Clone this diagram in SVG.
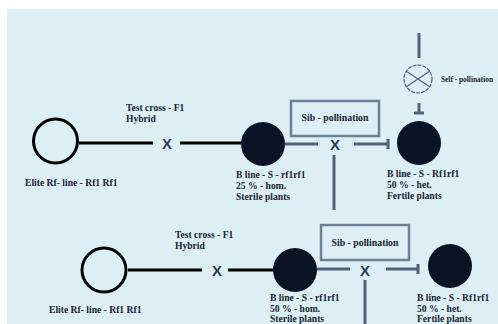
<svg xmlns="http://www.w3.org/2000/svg" width="498" height="324" viewBox="0 0 498 324">
<style>
  .t{font-family:"Liberation Serif","Times New Roman",serif;font-weight:bold;font-size:9.6px;fill:#1c2233}
  .sib{font-size:9.8px}
  .self{font-size:8px}
  .x{font-family:"Liberation Sans",Arial,sans-serif;font-weight:bold;font-size:15px;fill:#2c3d57;text-anchor:middle}
  .open{fill:none;stroke:#000;stroke-width:3}
  .fill{fill:#0b1326}
  .bl{stroke:#000;stroke-width:3;fill:none}
  .gl{stroke:#4e627a;stroke-width:3;fill:none}
  .box{fill:#dbeff4;stroke:#6d8196;stroke-width:2.5}
</style>
<rect x="0" y="0" width="498" height="324" fill="#ffffff"/>
<rect x="7" y="9" width="491" height="315" fill="#dbeff4"/>

<g id="connectors">
  <line class="bl" x1="79" y1="143" x2="153" y2="143"/>
  <line class="bl" x1="180" y1="143" x2="250" y2="143"/>
  <line class="gl" x1="285" y1="144" x2="318" y2="144"/>
  <line class="gl" x1="354" y1="144" x2="388" y2="144"/>
  <line class="gl" x1="388" y1="139" x2="388" y2="149" stroke-width="1.5"/>
  <line class="gl" x1="334" y1="155" x2="334" y2="210"/>
  <line class="gl" x1="419" y1="33" x2="419" y2="58" stroke-width="2.5"/>
  <line class="gl" x1="419" y1="103" x2="419" y2="113" stroke-width="2.5"/>
  <line class="gl" x1="414" y1="113" x2="424" y2="113" stroke-width="2"/>

  <line class="bl" x1="128" y1="270" x2="202" y2="270"/>
  <line class="bl" x1="228" y1="270" x2="284" y2="270"/>
  <line class="gl" x1="317" y1="269" x2="350" y2="269"/>
  <line class="gl" x1="386" y1="269" x2="418" y2="269"/>
  <line class="gl" x1="418" y1="264" x2="418" y2="274" stroke-width="1.5"/>
  <line class="gl" x1="365" y1="280" x2="365" y2="324"/>
</g>

<g id="x-marks">
  <text class="x" x="167" y="149">X</text>
  <text class="x" x="335" y="150">X</text>
  <text class="x" x="217" y="276">X</text>
  <text class="x" x="365" y="276">X</text>
</g>

<g id="elite1">
  <circle class="open" cx="55.5" cy="141" r="22"/>
  <text class="t" x="25" y="186">Elite Rf- line - Rf1 Rf1</text>
</g>
<g id="testcross1">
  <text class="t" x="126" y="111">Test cross - F1</text>
  <text class="t" x="126" y="122">Hybrid</text>
</g>
<g id="bline1">
  <circle class="fill" cx="263" cy="144" r="22"/>
  <text class="t" x="236" y="178">B line - S - rf1rf1</text>
  <text class="t" x="236" y="189">25 % -  hom.</text>
  <text class="t" x="236" y="200">Sterile plants</text>
</g>
<g id="sib1">
  <rect class="box" x="291" y="101" width="88" height="35"/>
  <text class="t sib" x="335" y="121" text-anchor="middle">Sib - pollination</text>
</g>
<g id="self">
  <circle cx="418" cy="79" r="14" fill="none" stroke="#4e627a" stroke-width="1.2" stroke-dasharray="4 1"/>
  <line x1="406" y1="71" x2="430" y2="87" stroke="#4e627a" stroke-width="1.2"/>
  <line x1="406" y1="87" x2="430" y2="71" stroke="#4e627a" stroke-width="1.2"/>
  <text class="t self" x="441" y="82" textLength="52" lengthAdjust="spacingAndGlyphs">Self - pollination</text>
</g>
<g id="bline2">
  <circle class="fill" cx="419" cy="143" r="22"/>
  <text class="t" x="387" y="177">B line - S - Rf1rf1</text>
  <text class="t" x="387" y="188">50 % - het.</text>
  <text class="t" x="387" y="199">Fertile plants</text>
</g>

<g id="elite2">
  <circle class="open" cx="104" cy="270" r="22"/>
  <text class="t" x="49" y="313">Elite Rf- line - Rf1 Rf1</text>
</g>
<g id="testcross2">
  <text class="t" x="175" y="238">Test cross - F1</text>
  <text class="t" x="175" y="249">Hybrid</text>
</g>
<g id="bline3">
  <circle class="fill" cx="295" cy="270" r="22"/>
  <text class="t" x="270" y="301">B line - S - rf1rf1</text>
  <text class="t" x="270" y="311.5">50 % -  hom.</text>
  <text class="t" x="270" y="322">Sterile plants</text>
</g>
<g id="sib2">
  <rect class="box" x="321" y="225" width="88" height="35"/>
  <text class="t sib" x="365" y="246" text-anchor="middle">Sib - pollination</text>
</g>
<g id="bline4">
  <circle class="fill" cx="450" cy="266" r="22"/>
  <text class="t" x="417" y="301">B line - S - Rf1rf1</text>
  <text class="t" x="417" y="311.5">50 % - het.</text>
  <text class="t" x="417" y="322">Fertile plants</text>
</g>
</svg>
